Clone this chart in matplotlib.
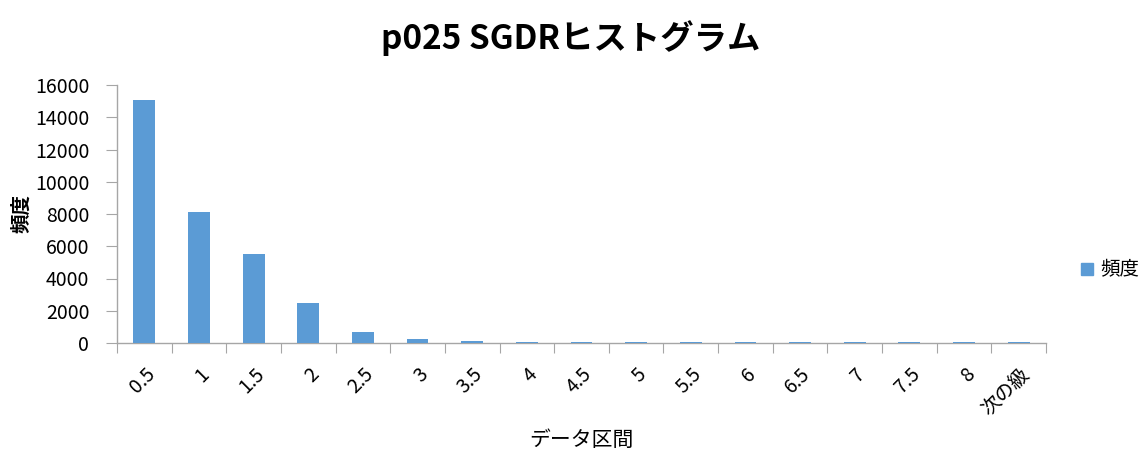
import matplotlib
matplotlib.use("Agg")
import matplotlib.pyplot as plt
from matplotlib.lines import Line2D

plt.rcParams['font.family'] = ['Noto Sans CJK JP', 'DejaVu Sans']

categories = ["0.5", "1", "1.5", "2", "2.5", "3", "3.5", "4", "4.5", "5",
              "5.5", "6", "6.5", "7", "7.5", "8", "次の級"]
frequency = [15100, 8150, 5500, 2480, 680, 250, 120, 60, 50, 40,
             40, 40, 40, 40, 40, 40, 40]

bar_color = "#5B9BD5"
axis_color = "#A6A6A6"
text_color = "#000000"

fig = plt.figure(figsize=(11.47, 4.57), dpi=100)
ax = fig.add_axes([117 / 1147, 1 - 343 / 457, (1046 - 117) / 1147, (343 - 85) / 457])

x = list(range(len(categories)))
ax.bar(x, frequency, width=0.4, color=bar_color, zorder=3)

ax.set_xlim(-0.5, len(categories) - 0.5)
ax.set_ylim(0, 16000)
ax.set_yticks(range(0, 16001, 2000))
ax.tick_params(axis='y', labelsize=14, length=8, color=axis_color, direction='out', pad=12)

# category ticks sit between bars; labels sit under the bar centres
ax.set_xticks([i - 0.5 for i in range(len(categories) + 1)])
ax.set_xticklabels([])
ax.set_xticks(x, minor=True)
ax.set_xticklabels(categories, minor=True, rotation=45, ha='right', va='top',
                   rotation_mode='anchor', fontsize=14)
ax.tick_params(axis='x', which='major', length=7, color=axis_color, direction='out')
ax.tick_params(axis='x', which='minor', length=0, pad=15)

for side in ('top', 'right'):
    ax.spines[side].set_visible(False)
for side in ('left', 'bottom'):
    ax.spines[side].set_color(axis_color)
    ax.spines[side].set_linewidth(1.0)

fig.text(571 / 1147, 1 - 38 / 457, "p025 SGDRヒストグラム",
         ha='center', va='center', fontsize=24, fontweight='bold', color=text_color)
fig.text(22 / 1147, 1 - 213 / 457, "頻度", rotation=90, ha='center', va='center',
         fontsize=14, fontweight='bold', color=text_color)
fig.text(581 / 1147, 1 - 440 / 457, "データ区間", ha='center', va='center',
         fontsize=15, color=text_color)

handle = Line2D([], [], marker='s', linestyle='none', markersize=8,
                markerfacecolor=bar_color, markeredgecolor=bar_color)
fig.legend([handle], ["頻度"], loc='center left', bbox_to_anchor=(1078 / 1147, 1 - 270 / 457),
           frameon=False, fontsize=14, handletextpad=0.25, handlelength=0.9,
           borderpad=0, borderaxespad=0)

fig.savefig("out.png", dpi=100)
